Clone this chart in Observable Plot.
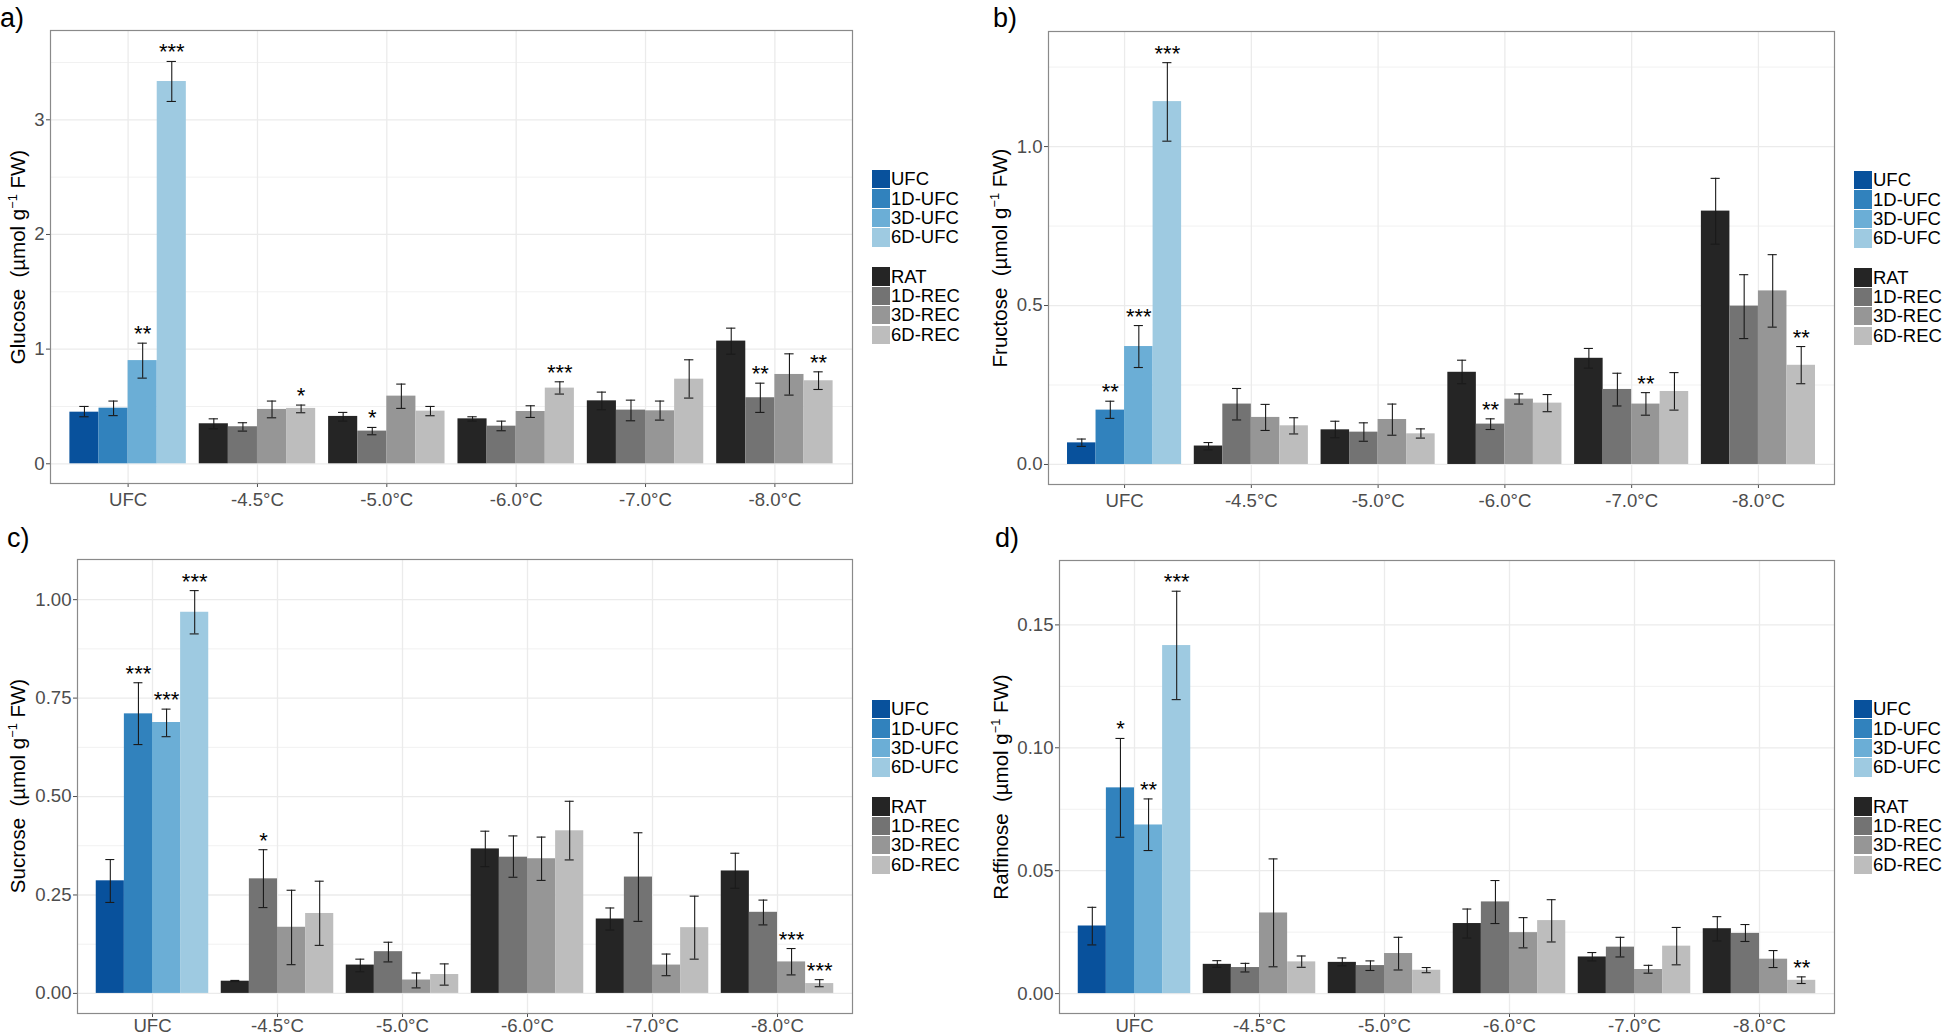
<!DOCTYPE html>
<html>
<head>
<meta charset="utf-8">
<script src="https://cdn.jsdelivr.net/npm/d3@7"></script>
<script src="https://cdn.jsdelivr.net/npm/@observablehq/plot@0.6"></script>
<style>
  body { margin: 0; background: #fff; font-family: "Liberation Sans", Arial, sans-serif; }
  #root { position: relative; width: 1946px; height: 1036px; overflow: hidden; background: #fff; }
  .plab { position: absolute; font-size: 27px; line-height: 1; color: #000; }
  .ytitle { position: absolute; font-size: 20.5px; line-height: 1; color: #000; white-space: nowrap;
            transform: translate(-50%, -50%) rotate(-90deg); }
  .ytitle sup { font-size: 0.62em; line-height: 0; vertical-align: 0.62em; }
  .key { position: absolute; width: 18px; height: 18.4px; }
  .ktext { position: absolute; font-size: 18.5px; line-height: 1; color: #000; white-space: nowrap; transform: translateY(-50%); }
</style>
</head>
<body>
<div id="root"></div>
<script>
// ---------- data ----------
const categories = ["UFC", "-4.5°C", "-5.0°C", "-6.0°C", "-7.0°C", "-8.0°C"];
const ufcSeries = ["UFC", "1D-UFC", "3D-UFC", "6D-UFC"];
const recSeries = ["RAT", "1D-REC", "3D-REC", "6D-REC"];
const ufcColors = ["#08519c", "#3182bd", "#6baed6", "#9ecae1"];
const recColors = ["#252525", "#737373", "#969696", "#bdbdbd"];

// Glucose (rows = categories, columns = series within group)
const glucoseMean = [[0.45,0.485,0.90,3.334],[0.349,0.323,0.474,0.483],[0.413,0.285,0.590,0.459],[0.392,0.328,0.456,0.66],[0.549,0.468,0.462,0.738],[1.070,0.576,0.779,0.724]];
const glucoseHi   = [[0.50,0.547,1.052,3.509],[0.392,0.358,0.547,0.512],[0.448,0.317,0.695,0.50],[0.41,0.372,0.506,0.715],[0.625,0.555,0.547,0.907],[1.183,0.703,0.959,0.802]];
const glucoseLo   = [[0.41,0.42,0.747,3.16],[0.305,0.285,0.401,0.445],[0.372,0.253,0.483,0.419],[0.372,0.288,0.404,0.608],[0.471,0.375,0.381,0.573],[0.956,0.448,0.599,0.648]];
const glucoseStars = [["","","**","***"],["","","","*"],["","*","",""],["","","","***"],["","","",""],["","**","","**"]];
const glucoseTicks = [0, 1, 2, 3];
const glucoseMinor = [0.5, 1.5, 2.5, 3.5];

// Fructose
const fructoseMean = [[0.068,0.171,0.371,1.1415],[0.058,0.190,0.148,0.1216],[0.109,0.1017,0.1415,0.0964],[0.290,0.127,0.2055,0.193],[0.334,0.236,0.190,0.2296],[0.797,0.498,0.546,0.312]];
const fructoseHi   = [[0.080,0.199,0.437,1.264],[0.069,0.239,0.189,0.147],[0.136,0.131,0.190,0.112],[0.328,0.1436,0.222,0.220],[0.365,0.287,0.226,0.289],[0.900,0.597,0.660,0.371]];
const fructoseLo   = [[0.057,0.145,0.305,1.017],[0.046,0.140,0.107,0.096],[0.084,0.073,0.092,0.083],[0.254,0.110,0.190,0.166],[0.303,0.184,0.155,0.171],[0.693,0.396,0.432,0.254]];
const fructoseStars = [["","**","***","***"],["","","",""],["","","",""],["","**","",""],["","","**",""],["","","","**"]];
const fructoseTicks = [0, 0.5, 1.0];
const fructoseMinor = [0.25, 0.75, 1.25];

// Sucrose
const sucroseMean = [[0.286,0.710,0.688,0.968],[0.031,0.291,0.168,0.203],[0.072,0.106,0.034,0.048],[0.367,0.346,0.342,0.413],[0.189,0.2955,0.072,0.167],[0.311,0.206,0.080,0.025]];
const sucroseHi   = [[0.340,0.789,0.722,1.023],[0.033,0.365,0.262,0.285],[0.087,0.130,0.052,0.075],[0.412,0.400,0.397,0.488],[0.217,0.408,0.100,0.247],[0.356,0.237,0.114,0.035]];
const sucroseLo   = [[0.231,0.632,0.652,0.913],[0.030,0.218,0.073,0.122],[0.055,0.080,0.014,0.021],[0.322,0.295,0.287,0.339],[0.161,0.183,0.045,0.087],[0.267,0.174,0.047,0.017]];
const sucroseStars = [["","***","***","***"],["","*","",""],["","","",""],["","","",""],["","","",""],["","","***","***"]];
const sucroseTicks = [0, 0.25, 0.5, 0.75, 1.0];
const sucroseMinor = [0.125, 0.375, 0.625, 0.875];

// Raffinose
const raffinoseMean = [[0.0275,0.0837,0.0686,0.1416],[0.0119,0.0106,0.0328,0.0129],[0.0127,0.0114,0.0163,0.0095],[0.0285,0.0373,0.0248,0.0297],[0.0149,0.0189,0.0098,0.0193],[0.0264,0.0245,0.014,0.0054]];
const raffinoseHi   = [[0.0351,0.1038,0.0792,0.1637],[0.0134,0.0123,0.0548,0.0153],[0.0145,0.0133,0.0229,0.0106],[0.0344,0.046,0.0309,0.0382],[0.0167,0.0229,0.0115,0.0269],[0.0313,0.0281,0.0175,0.0068]];
const raffinoseLo   = [[0.0198,0.0636,0.0582,0.1196],[0.0107,0.0088,0.0109,0.0107],[0.0113,0.0094,0.0096,0.0085],[0.0226,0.0285,0.0186,0.021],[0.0133,0.0149,0.0083,0.0117],[0.0214,0.0212,0.0106,0.0041]];
const raffinoseStars = [["","*","**","***"],["","","",""],["","","",""],["","","",""],["","","",""],["","","","**"]];
const raffinoseTicks = [0, 0.05, 0.10, 0.15];
const raffinoseMinor = [0.025, 0.075, 0.125];

// ---------- layout ----------
const FONT = '"Liberation Sans", Arial, sans-serif';
const panels = [
  {tag: "a)", name: "Glucose", mean: glucoseMean, hi: glucoseHi, lo: glucoseLo, stars: glucoseStars, ticks: glucoseTicks, minor: glucoseMinor, fmt: ".0f",
   frame: {l: 50, r: 852, t: 30, b: 483}, ydom: [-0.172, 3.779], tagPos: [0, 4.5], titleX: 18, legend: [872, 170], xPad: 5},
  {tag: "b)", name: "Fructose", mean: fructoseMean, hi: fructoseHi, lo: fructoseLo, stars: fructoseStars, ticks: fructoseTicks, minor: fructoseMinor, fmt: ".1f",
   frame: {l: 1048, r: 1834, t: 31, b: 484}, ydom: [-0.063, 1.362], tagPos: [993, 4.5], titleX: 999.5, legend: [1854, 171], xPad: 5},
  {tag: "c)", name: "Sucrose", mean: sucroseMean, hi: sucroseHi, lo: sucroseLo, stars: sucroseStars, ticks: sucroseTicks, minor: sucroseMinor, fmt: ".2f",
   frame: {l: 77, r: 852, t: 559, b: 1013}, ydom: [-0.051, 1.102], tagPos: [7, 525], titleX: 18, legend: [872, 700], xPad: 1},
  {tag: "d)", name: "Raffinose", mean: raffinoseMean, hi: raffinoseHi, lo: raffinoseLo, stars: raffinoseStars, ticks: raffinoseTicks, minor: raffinoseMinor, fmt: ".2f",
   frame: {l: 1059, r: 1834, t: 560, b: 1013}, ydom: [-0.0081, 0.1762], tagPos: [995, 525], titleX: 1001, legend: [1854, 700], xPad: 1}
];

const root = document.getElementById("root");
const catIdx = categories.map((_, i) => i + 1);
const barW = 0.9 / 4;
const whisk = 0.036;

function el(tag, cls, style, html) {
  const e = document.createElement(tag);
  if (cls) e.className = cls;
  Object.assign(e.style, style);
  if (html != null) e.innerHTML = html;
  root.appendChild(e);
  return e;
}

for (const p of panels) {
  const rows = [];
  p.mean.forEach((vals, i) => vals.forEach((v, j) => {
    const x1 = (i + 1) - 0.45 + j * barW;
    rows.push({
      x1, x2: x1 + barW, cx: x1 + barW / 2,
      series: i === 0 ? ufcSeries[j] : recSeries[j],
      mean: v, hi: p.hi[i][j], lo: p.lo[i][j], star: p.stars[i][j]
    });
  }));

  const svgLeft = p.frame.l - 60;
  const svgTop = p.frame.t - 30;
  const marginBottom = Math.min(32, 1036 - p.frame.b);
  const chart = Plot.plot({
    width: p.frame.r + 8 - svgLeft,
    height: p.frame.b + marginBottom - svgTop,
    marginLeft: 60, marginRight: 8, marginTop: 30, marginBottom,
    style: {fontFamily: FONT, fontSize: "18.6px", color: "#4d4d4d", background: "transparent", overflow: "visible"},
    x: {domain: [0.4, 6.6], ticks: catIdx, tickFormat: d => categories[d - 1], label: null, tickSize: 4, tickPadding: p.xPad},
    y: {domain: p.ydom, ticks: p.ticks, tickFormat: d3.format(p.fmt), label: null, tickSize: 4, tickPadding: 2},
    color: {domain: [...ufcSeries, ...recSeries], range: [...ufcColors, ...recColors]},
    marks: [
      Plot.ruleY(p.minor, {stroke: "#f1f1f1", strokeWidth: 1}),
      Plot.ruleY(p.ticks, {stroke: "#ebebeb", strokeWidth: 1.3}),
      Plot.ruleX(catIdx, {stroke: "#ebebeb", strokeWidth: 1.3}),
      Plot.rectY(rows, {x1: "x1", x2: "x2", y1: 0, y2: "mean", fill: "series"}),
      Plot.ruleX(rows, {x: "cx", y1: "lo", y2: "hi", stroke: "#1a1a1a", strokeWidth: 1.1}),
      Plot.ruleY(rows, {y: "hi", x1: d => d.cx - whisk, x2: d => d.cx + whisk, stroke: "#1a1a1a", strokeWidth: 1.1}),
      Plot.ruleY(rows, {y: "lo", x1: d => d.cx - whisk, x2: d => d.cx + whisk, stroke: "#1a1a1a", strokeWidth: 1.1}),
      Plot.text(rows.filter(d => d.star), {x: "cx", y: "hi", text: "star", lineAnchor: "bottom", dy: -2, fontSize: 22, fill: "#000", fontFamily: FONT}),
      Plot.frame({stroke: "#8a8a8a", strokeWidth: 1.2})
    ]
  });
  chart.style.position = "absolute";
  chart.style.left = svgLeft + "px";
  chart.style.top = svgTop + "px";
  chart.style.maxWidth = "none";
  root.appendChild(chart);

  // panel tag
  el("div", "plab", {left: p.tagPos[0] + "px", top: p.tagPos[1] + "px"}, p.tag);

  // y title
  el("div", "ytitle", {left: p.titleX + "px", top: ((p.frame.t + p.frame.b) / 2) + "px"},
     p.name + "&nbsp;&nbsp;(µmol g<sup>−1</sup> FW)");

  // legend (two groups)
  const [lx, ly] = p.legend;
  const groups = [[ufcSeries, ufcColors, ly], [recSeries, recColors, ly + 97.3]];
  for (const [names, cols, gy] of groups) {
    names.forEach((n, k) => {
      const top = gy + k * 19.4;
      el("div", "key", {left: lx + "px", top: top + "px", background: cols[k]});
      el("div", "ktext", {left: (lx + 19) + "px", top: (top + 9.2) + "px"}, n);
    });
  }
}
</script>
</body>
</html>
